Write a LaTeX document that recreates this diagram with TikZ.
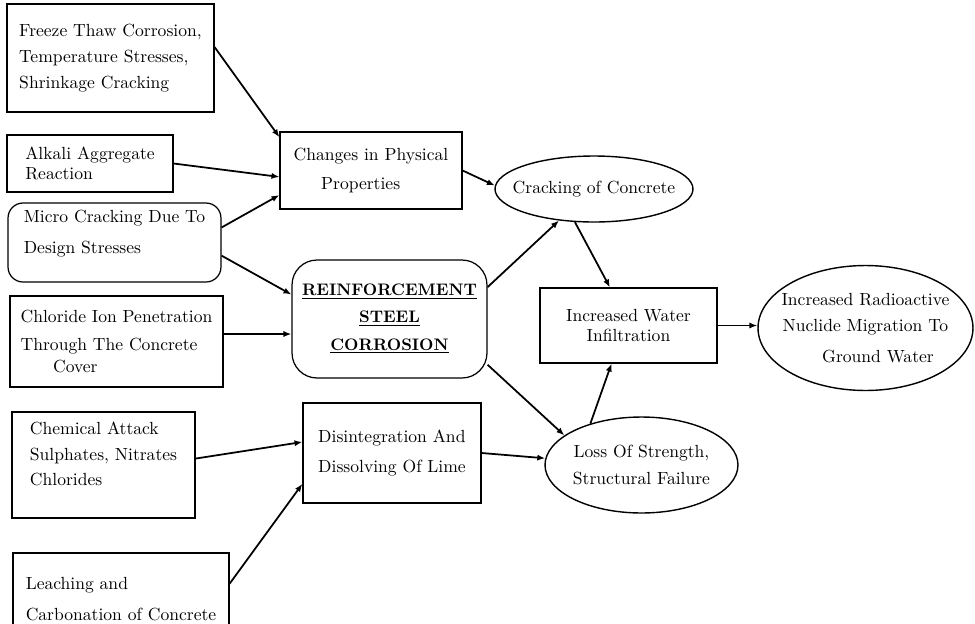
\documentclass[tikz,border=0pt]{standalone}
\usepackage{tikz}
\usetikzlibrary{arrows.meta, shapes.geometric}

\begin{document}
\begin{tikzpicture}[x=0.02cm, y=-0.02cm, >={Latex[length=4.5pt,width=3.5pt]},
    cause/.style={draw, line width=0.7pt, align=left, inner sep=0pt},
    soft/.style={cause, rounded corners=#1},
    oval/.style={draw, ellipse, line width=0.8pt, align=center, inner sep=0pt},
    linesep/.style={font=\fontsize{10}{#1}\selectfont},
    link/.style={->, line width=1pt}]
  \useasboundingbox (0,0) rectangle (975,623);
  % Causes on the left
  \node[cause, linesep=14.7pt, minimum width=4.14cm, minimum height=2.16cm] (freeze) at (110.5,58)
    {Freeze Thaw Corrosion,\\Temperature Stresses,\\Shrinkage Cracking};
  \node[cause, linesep=11.3pt, minimum width=3.32cm, minimum height=1.14cm] (alkali) at (90,163.5)
    {Alkali Aggregate\\Reaction};
  \node[soft=0.3cm, linesep=18pt, minimum width=4.26cm, minimum height=1.58cm] (micro) at (114.5,242.5)
    {Micro Cracking Due To\\Design Stresses\\[-6pt]};
  \node[cause, linesep=13pt, minimum width=4.26cm, minimum height=1.82cm] (chloride) at (116.5,341.5)
    {Chloride Ion Penetration\\[3pt]Through The Concrete\\\hspace*{0.65cm}Cover};
  \node[cause, linesep=14.5pt, minimum width=3.66cm, minimum height=2.12cm] (chemical) at (103.5,465)
    {Chemical Attack\\Sulphates, Nitrates\\Chlorides\\[-2pt]\mbox{}};
  \node[cause, linesep=18pt, minimum width=4.32cm, minimum height=1.84cm] (leaching) at (121,599)
    {Leaching and\\Carbonation of Concrete};
  % Middle column
  \node[cause, linesep=16.4pt, minimum width=3.64cm, minimum height=1.54cm] (changes) at (371,170.5)
    {Changes in Physical\\\hspace*{0.55cm}Properties};
  \node[soft=0.5cm, align=center, linesep=15.5pt, minimum width=3.9cm, minimum height=2.36cm,
    font=\fontsize{9.5}{15.5}\selectfont\bfseries] (reinf) at (389.5,319)
    {\underline{REINFORCEMENT}\\\underline{STEEL}\\\underline{CORROSION}};
  \node[cause, linesep=17.5pt, minimum width=3.56cm, minimum height=2cm] (disint) at (392,453)
    {Disintegration And\\Dissolving Of Lime};
  % Effects on the right
  \node[oval, minimum width=3.96cm, minimum height=1.32cm] (crack) at (594,189)
    {\makebox[0pt]{Cracking of Concrete}};
  \node[cause, align=center, linesep=11.3pt, minimum width=3.54cm, minimum height=1.5cm] (water) at (628.5,325.5)
    {Increased Water\\Infiltration};
  \node[oval, linesep=15.8pt, minimum width=3.86cm, minimum height=1.92cm] (loss) at (641.5,465)
    {\makebox[0pt]{Loss Of Strength,}\\\makebox[0pt]{Structural Failure}};
  \node[oval, linesep=14.7pt, minimum width=4.3cm, minimum height=2.5cm] (radio) at (865.5,328)
    {\makebox[0pt]{Increased Radioactive}\\\makebox[0pt]{Nuclide Migration To}\\[3pt]\makebox[0pt]{\hspace*{0.5cm}Ground Water}};
  % Connectors
  \draw[link] (freeze.6) -- (changes.160);
  \draw[link] (alkali.east) -- (changes.184);
  \draw[link] (micro.8) -- (changes.195);
  \draw[link] (micro.353) -- (reinf.166);
  \draw[link] (chloride.4) -- (chloride.4 -| reinf.west);
  \draw[link] (chemical.4) -- (disint.173);
  \draw[link] (leaching.8) -- (disint.199);
  \draw[link] (changes.east) -- (crack.178);
  \draw[link] (reinf.18) -- (crack.222);
  \draw[link] (reinf.335) -- (loss.159);
  \draw[link] (disint.east) -- (loss.176);
  \draw[link] (crack.240) -- (water.116);
  \draw[link] (loss.141) -- (water.246);
  \draw[link] (water.east) -- (water.east -| radio.west);
\end{tikzpicture}
\end{document}
